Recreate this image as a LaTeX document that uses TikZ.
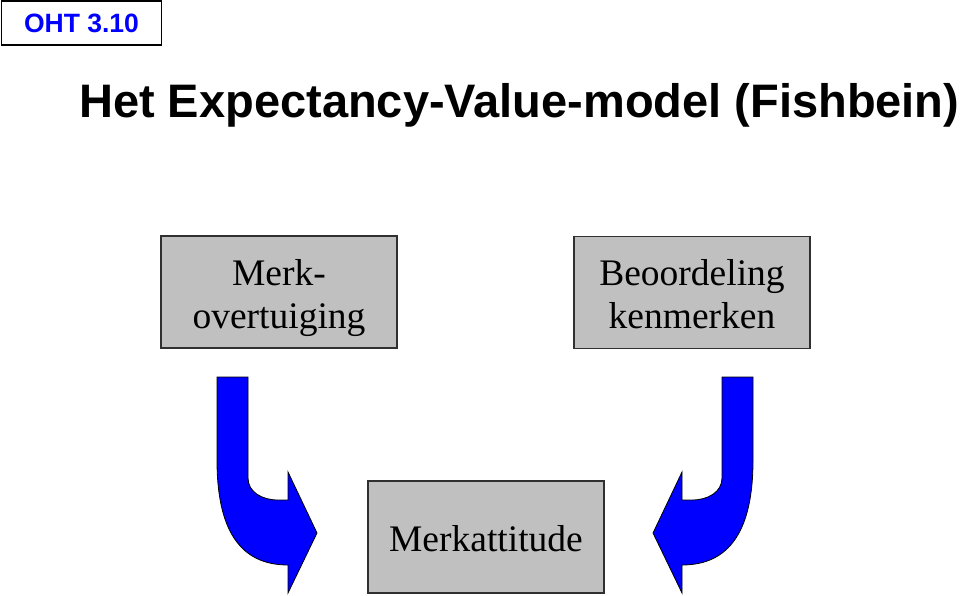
\documentclass[tikz,border=0pt]{standalone}
\usepackage{fontspec}
\setmainfont{Liberation Serif}
\newfontfamily\arialfont{Liberation Sans}
\definecolor{boxgray}{HTML}{C0C0C0}
\definecolor{arrowblue}{HTML}{0000FF}
\definecolor{edgegray}{HTML}{303030}
\begin{document}
\begin{tikzpicture}[x=1pt,y=-1pt,
  conceptbox/.style={draw=edgegray,line width=1.2pt,fill=boxgray,minimum width=236pt,minimum height=112pt,inner sep=0pt},
  boxlabel/.style={anchor=base,inner sep=0pt,font=\fontsize{37.5}{43}\selectfont},
  blockarrow/.style={draw=black,line width=0.8pt,fill=arrowblue,line join=miter}]
\useasboundingbox (0,0) rectangle (960,596);
% label box
\node[draw=black,line width=1.2pt,minimum width=160pt,minimum height=44pt,inner sep=0pt] (oht) at (81.5,23) {};
\node[anchor=base,inner sep=0pt,text=arrowblue,font=\arialfont\bfseries\fontsize{26.5}{26.5}\selectfont] (ohttext) at (81.5,32.5) {OHT 3.10};
% title
\node[anchor=base west,inner sep=0pt,font=\arialfont\bfseries\fontsize{47}{47}\selectfont] (title) at (79,118) {Het Expectancy-Value-model (Fishbein)};
% boxes
\node[conceptbox] (merk) at (279,292) {};
\node[boxlabel] (merk1) at (279,285) {Merk-};
\node[boxlabel] (merk2) at (279,328) {overtuiging};
\node[conceptbox] (beoord) at (692,292.5) {};
\node[boxlabel] (beoord1) at (692,285) {Beoordeling};
\node[boxlabel] (beoord2) at (692,328) {kenmerken};
\node[conceptbox] (att) at (486,537) {};
\node[boxlabel] (att1) at (486,551) {Merkattitude};
% left block arrow
\draw[blockarrow] (217,377) -- (248,377) -- (248,478)
  .. controls (248,492) and (262,500) .. (278,500) -- (288,500) -- (288,472)
  -- (317,533) -- (288,593) -- (288,565)
  .. controls (240,565) and (217,530) .. (217,460) -- cycle;
% right block arrow
\draw[blockarrow] (753,377) -- (722,377) -- (722,478)
  .. controls (722,492) and (708,500) .. (692,500) -- (682,500) -- (682,472)
  -- (653,533) -- (682,593) -- (682,565)
  .. controls (730,565) and (753,530) .. (753,460) -- cycle;
\end{tikzpicture}
\end{document}
